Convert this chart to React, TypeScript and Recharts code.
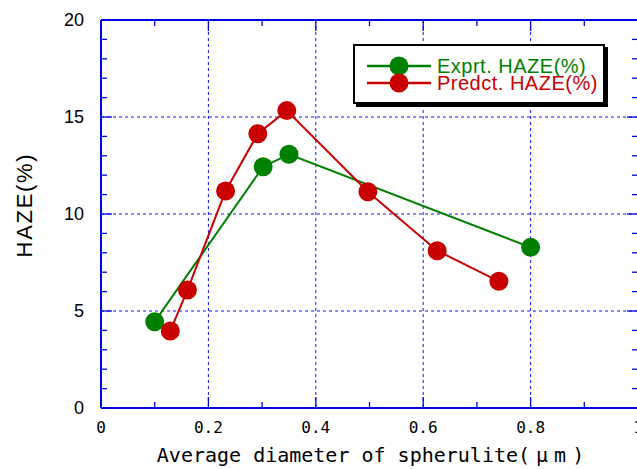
import React from 'react';
import { ScatterChart, Scatter, XAxis, YAxis, CartesianGrid, Legend, Label } from 'recharts';

// ---- data ----
const exprtX = [0.1, 0.302, 0.35, 0.8];
const exprtY = [4.45, 12.44, 13.08, 8.28];
const predX = [0.129, 0.161, 0.232, 0.292, 0.346, 0.497, 0.626, 0.741];
const predY = [3.97, 6.08, 11.19, 14.14, 15.33, 11.15, 8.11, 6.53];

const xMajorTicks = [0, 0.2, 0.4, 0.6, 0.8, 1];
const xTickLabels = ['0', '0.2', '0.4', '0.6', '0.8', '1'];
const xAllTicks = [0, 0.1, 0.2, 0.3, 0.4, 0.5, 0.6, 0.7, 0.8, 0.9, 1];
const yMajorTicks = [0, 5, 10, 15, 20];
const yTickLabels = ['0', '5', '10', '15', '20'];
const yAllTicks = [0, 1, 2, 3, 4, 5, 6, 7, 8, 9, 10, 11, 12, 13, 14, 15, 16, 17, 18, 19, 20];

const seriesNames = ['Exprt. HAZE(%)', 'Predct. HAZE(%)'];
const xTitle = 'Average diameter of spherulite';
const xTitleUnit = '(μm)';
const yTitle = 'HAZE(%)';

const exprtData = exprtX.map((x, i) => ({ x, y: exprtY[i] }));
const predData = predX.map((x, i) => ({ x, y: predY[i] }));

// ---- styles ----
const GREEN = '#008000';
const RED = '#c80000';
const AXIS = '#0000e6';
const GRID = '#1515ff';
const MARKER_R = 9.5;

const majorIdx = (arr: number[], v: number) => arr.findIndex((m) => Math.abs(m - v) < 1e-9);

const BottomTick = (props: any) => {
  const { x, y, payload } = props;
  const idx = majorIdx(xMajorTicks, payload.value);
  const major = idx >= 0;
  return (
    <g>
      <line x1={x} x2={x} y1={y} y2={y - (major ? 11 : 6)} stroke={AXIS} strokeWidth={1.3} />
      {major && (
        <text x={x} y={y + 19} textAnchor="middle" dominantBaseline="central"
          fontFamily="'DejaVu Sans Mono', monospace" fontSize={16} fill="#000">
          {xTickLabels[idx]}
        </text>
      )}
    </g>
  );
};

const TopTick = (props: any) => {
  const { x, y, payload } = props;
  const major = majorIdx(xMajorTicks, payload.value) >= 0;
  return <line x1={x} x2={x} y1={y} y2={y + (major ? 11 : 6)} stroke={AXIS} strokeWidth={1.3} />;
};

const LeftTick = (props: any) => {
  const { x, y, payload } = props;
  const idx = majorIdx(yMajorTicks, payload.value);
  const major = idx >= 0;
  return (
    <g>
      <line x1={x} x2={x + (major ? 11 : 6)} y1={y} y2={y} stroke={AXIS} strokeWidth={1.3} />
      {major && (
        <text x={x - 17} y={y} textAnchor="end" dominantBaseline="central"
          fontFamily="'Liberation Sans', Arial, sans-serif" fontSize={18} fill="#000">
          {yTickLabels[idx]}
        </text>
      )}
    </g>
  );
};

const RightTick = (props: any) => {
  const { x, y, payload } = props;
  const major = majorIdx(yMajorTicks, payload.value) >= 0;
  return <line x1={x} x2={x - (major ? 11 : 6)} y1={y} y2={y} stroke={AXIS} strokeWidth={1.3} />;
};

const Dot = (props: any) => {
  const { cx, cy, fill } = props;
  return <circle cx={cx} cy={cy} r={MARKER_R} fill={fill} />;
};

const XTitle = (props: any) => {
  const vb = props.viewBox || { x: 101, y: 408, width: 537, height: 1 };
  const cx = vb.x + vb.width / 2 + 4;
  return (
    <text x={cx} y={vb.y + 47} textAnchor="middle" dominantBaseline="central"
      fontFamily="'DejaVu Sans Mono', monospace" fontSize={20} fill="#000">
      {xTitle}
      <tspan letterSpacing={6}>{xTitleUnit}</tspan>
    </text>
  );
};

const YTitle = (props: any) => {
  const vb = props.viewBox || { x: 100, y: 20, width: 1, height: 388 };
  const tx = vb.x + vb.width - 77;
  const ty = vb.y + vb.height / 2 - 9;
  return (
    <text x={tx} y={ty} transform={`rotate(-90 ${tx} ${ty})`} textAnchor="middle" dominantBaseline="central"
      fontFamily="'Liberation Sans', Arial, sans-serif" fontSize={22} letterSpacing={1.7} fill="#000">
      {yTitle}
    </text>
  );
};

const LegendBox = (props: any) => {
  const payload = props.payload || [];
  return (
    <div style={{ position: 'relative', width: 252, height: 60, border: '2px solid #000', background: '#fff',
      boxShadow: '3px 3px 0 #000', boxSizing: 'border-box' }}>
      <svg width={248} height={56} style={{ display: 'block' }}>
        {payload.map((p: any, i: number) => {
          const cy = 20 + i * 17;
          return (
            <g key={i}>
              <line x1={12} x2={76} y1={cy} y2={cy} stroke={p.color} strokeWidth={2.5} />
              <circle cx={44} cy={cy} r={MARKER_R} fill={p.color} />
              <text x={82} y={cy} dominantBaseline="central" fontFamily="'Liberation Sans', Arial, sans-serif"
                fontSize={20} letterSpacing={0.5} fill={p.color}>{p.value}</text>
            </g>
          );
        })}
      </svg>
    </div>
  );
};

const applyScale = (s: any, v: number) => {
  if (typeof s === 'function') return s(v);
  if (s && typeof s.map === 'function') return s.map(v);
  return undefined;
};
const vGen = (args: any) => {
  const s = args?.xAxis?.scale;
  const o = args?.offset || {};
  return xMajorTicks.map((v) => {
    const r = applyScale(s, v);
    return typeof r === 'number' && isFinite(r) ? r : o.left + v * o.width;
  });
};
const hGen = (args: any) => {
  const s = args?.yAxis?.scale;
  const o = args?.offset || {};
  return yMajorTicks.map((v) => {
    const r = applyScale(s, v);
    return typeof r === 'number' && isFinite(r) ? r : o.top + (1 - v / 20) * o.height;
  });
};

export default function App() {
  return (
    <div style={{ position: 'absolute', left: 0, top: 0, width: 637, height: 469, overflow: 'hidden', background: '#fff' }}>
      <ScatterChart width={660} height={469} margin={{ top: 19, left: 100, right: 21, bottom: 60 }}>
        <CartesianGrid xAxisId="b" yAxisId="l" stroke={GRID} strokeDasharray="3 3" strokeWidth={1}
          verticalCoordinatesGenerator={vGen} horizontalCoordinatesGenerator={hGen} />
        <XAxis xAxisId="b" orientation="bottom" type="number" dataKey="x" domain={[0, 1]} ticks={xAllTicks}
          interval={0} height={1} tickSize={0} tickMargin={0} tickLine={false} tick={<BottomTick />}
          axisLine={{ stroke: AXIS, strokeWidth: 2 }} allowDataOverflow>
          <Label content={<XTitle />} />
        </XAxis>
        <XAxis xAxisId="t" orientation="top" type="number" dataKey="x" domain={[0, 1]} ticks={xAllTicks}
          interval={0} height={1} tickSize={0} tickMargin={0} tickLine={false} tick={<TopTick />}
          axisLine={{ stroke: AXIS, strokeWidth: 2 }} allowDataOverflow />
        <YAxis yAxisId="l" orientation="left" type="number" dataKey="y" domain={[0, 20]} ticks={yAllTicks}
          interval={0} width={1} tickSize={0} tickMargin={0} tickLine={false} tick={<LeftTick />}
          axisLine={{ stroke: AXIS, strokeWidth: 2 }} allowDataOverflow>
          <Label content={<YTitle />} />
        </YAxis>
        <YAxis yAxisId="r" orientation="right" type="number" dataKey="y" domain={[0, 20]} ticks={yAllTicks}
          interval={0} width={1} tickSize={0} tickMargin={0} tickLine={false} tick={<RightTick />}
          axisLine={{ stroke: AXIS, strokeWidth: 2 }} allowDataOverflow />
        <Legend layout="vertical" align="center" verticalAlign="middle" content={<LegendBox />}
          wrapperStyle={{ left: 353, top: 44, width: 'auto', height: 'auto' }} />
        <Scatter name={seriesNames[0]} data={exprtData} xAxisId="b" yAxisId="l" fill={GREEN}
          line={{ stroke: GREEN, strokeWidth: 2 }} shape={<Dot />} isAnimationActive={false} />
        <Scatter name={seriesNames[1]} data={predData} xAxisId="b" yAxisId="l" fill={RED}
          line={{ stroke: RED, strokeWidth: 2 }} shape={<Dot />} isAnimationActive={false} />
      </ScatterChart>
    </div>
  );
}
